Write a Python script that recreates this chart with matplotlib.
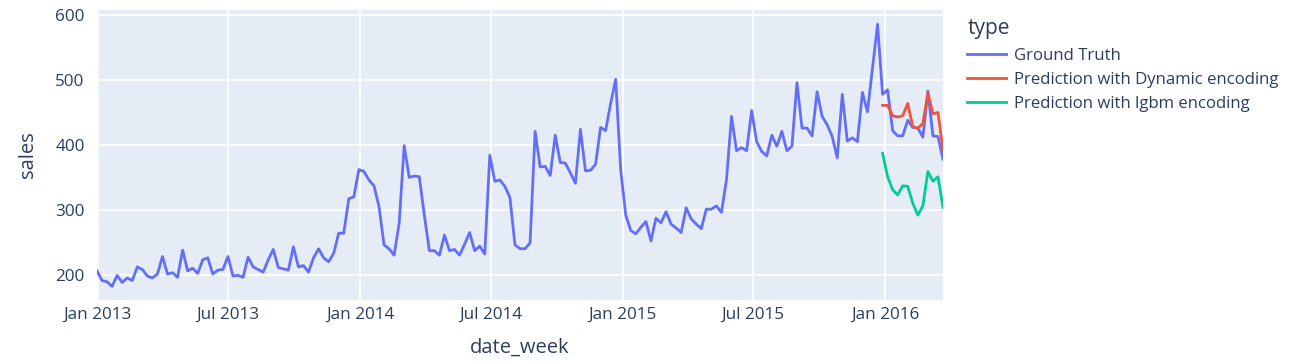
import matplotlib
matplotlib.use("Agg")
import matplotlib.pyplot as plt
import matplotlib.dates as mdates
import pandas as pd

# weekly sales, ground truth
ground_truth = [
    206, 191, 189, 182, 199, 188, 195, 191, 212, 208, 198, 195, 201, 228, 201,
    203, 196, 238, 206, 210, 202, 223, 226, 201, 207, 208, 228, 198, 199, 196,
    227, 212, 208, 204, 223, 239, 211, 209, 207, 243, 212, 214, 204, 226, 240,
    226, 220, 233, 264, 264, 317, 320, 362, 359, 346, 337, 305, 246, 240,
    230, 279, 399, 350, 352, 351, 292, 237, 237, 230, 261, 237, 239, 230, 247,
    265, 237, 244, 232, 384, 344, 346, 336, 319, 246, 240, 240, 249,
    421, 366, 367, 353, 415, 373, 372, 357, 341, 424, 360, 361, 370, 427, 422,
    464, 501, 361, 292, 268, 263, 273, 282, 252, 287, 280, 297, 278, 272,
    265, 303, 286, 278, 271, 301, 301, 306, 296, 346, 444, 391, 396, 391, 453,
    405, 390, 383, 415, 398, 421, 391, 398, 496, 426, 426, 414, 482, 444,
    431, 413, 380, 478, 406, 411, 405, 481, 451, 518, 586, 478, 485, 422, 414,
    414, 438, 427, 426, 412, 483, 414, 413, 378,
]
pred_dynamic = [461, 461, 445, 443, 445, 464, 428, 426, 433, 480, 448, 450, 392]
pred_lgbm = [387, 351, 331, 323, 337, 336, 310, 292, 306, 359, 344, 351, 304]

dates = pd.date_range("2012-12-31", periods=len(ground_truth), freq="W-MON")
pred_dates = dates[len(ground_truth) - len(pred_dynamic):]

TXT = "#2a3f5f"
plt.rcParams["font.family"] = ["Open Sans", "DejaVu Sans"]

fig = plt.figure(figsize=(13.04, 3.64), dpi=100)
ax = fig.add_axes([97 / 1304, 1 - 300 / 364, (943 - 97) / 1304, 290 / 364])
ax.set_facecolor("#E5ECF6")
for s in ax.spines.values():
    s.set_visible(False)

ax.plot(dates, ground_truth, color="#636EFA", lw=2, label="Ground Truth")
ax.plot(pred_dates, pred_dynamic, color="#EF553B", lw=2,
        label="Prediction with Dynamic encoding")
ax.plot(pred_dates, pred_lgbm, color="#00CC96", lw=2,
        label="Prediction with lgbm encoding")

ax.set_xlim(dates[0], dates[-1])
ax.set_ylim(161, 608)
ax.set_yticks([200, 300, 400, 500, 600])
ax.xaxis.set_major_locator(mdates.MonthLocator(bymonth=[1, 7]))
ax.xaxis.set_major_formatter(mdates.DateFormatter("%b %Y"))
ax.grid(color="white", lw=1.2)
ax.set_axisbelow(True)
ax.tick_params(axis="x", length=0, labelsize=12.3, labelcolor=TXT, pad=5)
ax.tick_params(axis="y", length=0, labelsize=12.3, labelcolor=TXT, pad=9)

fig.text(520 / 1304, 1 - 348 / 364, "date_week", ha="center", va="center",
         fontsize=14.5, color=TXT)
fig.text(28 / 1304, 1 - 155 / 364, "sales", ha="center", va="center",
         rotation=90, fontsize=14.5, color=TXT)

leg = ax.legend(title="type", loc="upper left",
                bbox_to_anchor=(952 / 1304, 1 - 3 / 364),
                bbox_transform=fig.transFigure, frameon=False,
                alignment="left", fontsize=12.1, title_fontsize=15,
                handlelength=2.3, handletextpad=0.5, labelspacing=0.5)
for t in leg.get_texts():
    t.set_color(TXT)
leg.get_title().set_color(TXT)

fig.savefig("out.png", dpi=100)
